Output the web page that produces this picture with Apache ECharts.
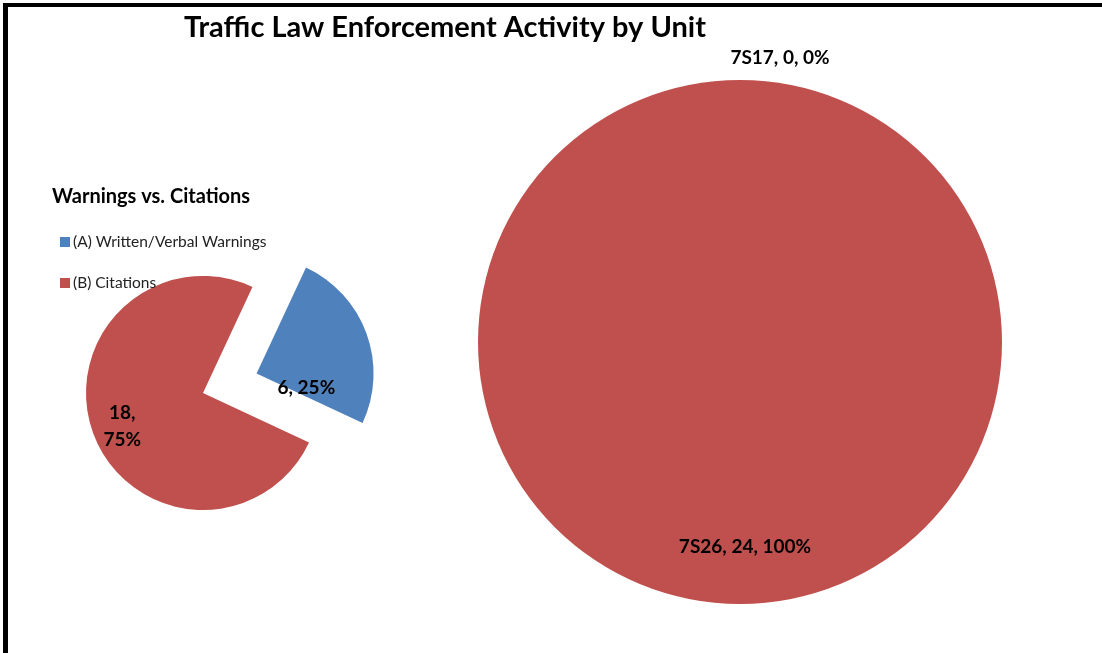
<!DOCTYPE html>
<html>
<head>
<meta charset="utf-8">
<script src="https://cdn.jsdelivr.net/npm/echarts@6/dist/echarts.min.js"></script>
<style>
html,body{margin:0;padding:0;background:#fff;}
#c{width:1102px;height:653px;position:absolute;left:0;top:0;}
#frame{position:absolute;left:3px;top:3px;width:1099px;height:650px;border-top:4px solid #000;border-left:5px solid #000;box-sizing:border-box;pointer-events:none;}
</style>
</head>
<body>
<div id="c"></div>
<div id="frame"></div>
<script>
const titleText = 'Traffic Law Enforcement Activity by Unit';
const smallTitle = 'Warnings vs. Citations';
const typeNames = ['(A) Written/Verbal Warnings', '(B) Citations'];
const typeValues = [6, 18];
const unitNames = ['7S17', '7S26'];
const unitValues = [0, 24];

const RED = '#C0504D', BLUE = '#4F81BD';
const FONT = 'Lato';
const chart = echarts.init(document.getElementById('c'), null, {renderer: 'canvas'});

const smallOffsets = [[-8, 35], [-23, 12]];
const smallData = typeNames.map((n, i) => ({
  name: n, value: typeValues[i],
  selected: i === 0,
  itemStyle: {color: i === 0 ? BLUE : RED},
  label: {offset: smallOffsets[i]},
  select: {label: {offset: smallOffsets[i]}}
}));
const unitData = unitNames.map((n, i) => ({
  name: n, value: unitValues[i],
  itemStyle: {color: RED},
  label: {offset: i === 0 ? [40, -150] : [5, 71]}
}));

chart.setOption({
  animation: false,
  backgroundColor: '#fff',
  title: [
    {text: titleText, left: 440, top: 8, textAlign: 'center',
     textStyle: {fontFamily: FONT, fontWeight: 'bold', fontSize: 29, color: '#000'}},
    {text: smallTitle, left: 47, top: 182,
     textStyle: {fontFamily: FONT, fontWeight: 'bold', fontSize: 20, color: '#000'}}
  ],
  legend: {
    orient: 'vertical', left: 55, top: 229, itemWidth: 10, itemHeight: 10, itemGap: 25,
    icon: 'rect', selectedMode: false, data: typeNames,
    textStyle: {fontFamily: FONT, fontSize: 15.5, color: '#222', padding: [0, 0, 0, -2]}
  },
  series: [
    {
      type: 'pie', center: [203, 393], radius: 117, startAngle: 65, clockwise: true,
      selectedMode: 'single', selectedOffset: 57, silent: true,
      label: {position: 'inside', formatter: p => p.dataIndex === 1 ? p.value + ',\n' + Math.round(p.percent) + '%' : p.value + ', ' + Math.round(p.percent) + '%',
        fontFamily: FONT, fontWeight: 'bold', fontSize: 19, color: '#000', lineHeight: 27},
      labelLine: {show: false},
      data: smallData
    },
    {
      type: 'pie', center: [740, 342], radius: 262, startAngle: 90, clockwise: true, silent: true,
      label: {position: 'inside', formatter: p => p.name + ', ' + p.value + ', ' + Math.round(p.percent) + '%',
        fontFamily: FONT, fontWeight: 'bold', fontSize: 19, color: '#000'},
      labelLine: {show: false},
      data: unitData
    }
  ]
});
</script>
</body>
</html>
